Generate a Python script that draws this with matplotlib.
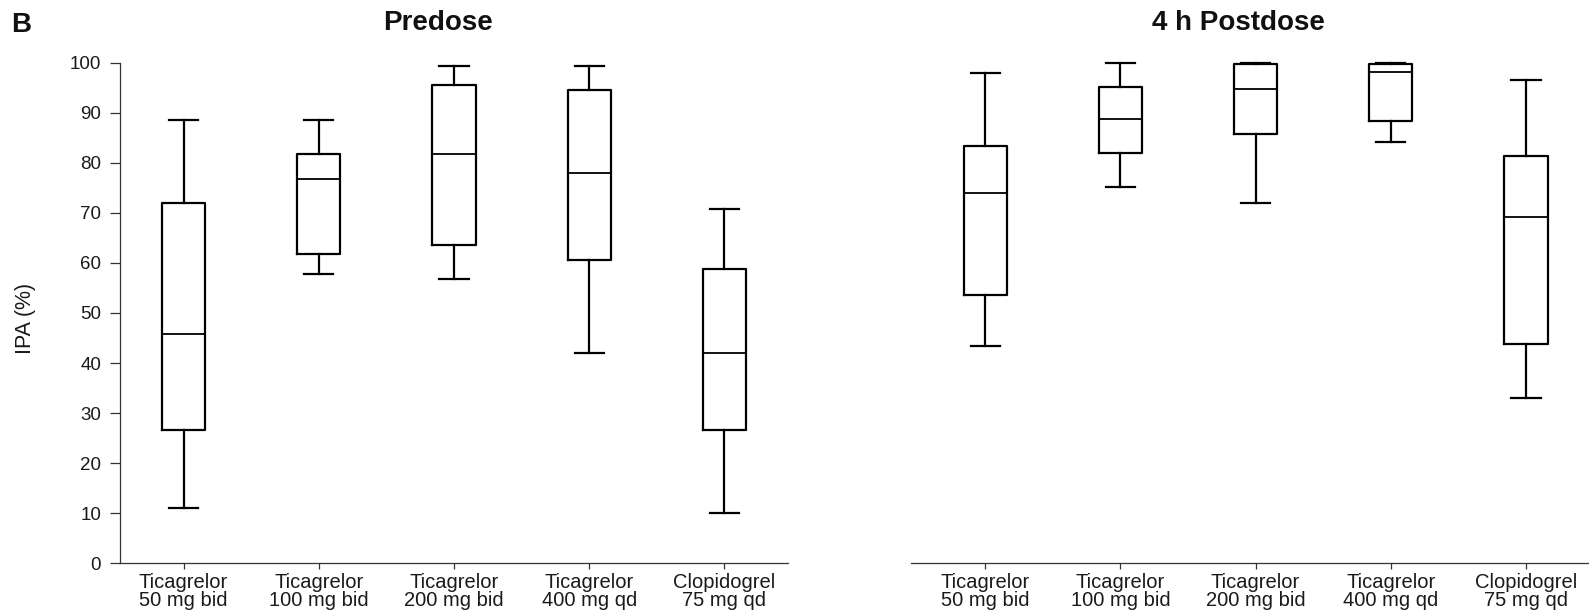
import matplotlib
matplotlib.use('Agg')
import matplotlib.pyplot as plt

plt.rcParams['font.family'] = ['Liberation Sans', 'DejaVu Sans']

groups = ['Ticagrelor\n50 mg bid', 'Ticagrelor\n100 mg bid', 'Ticagrelor\n200 mg bid',
          'Ticagrelor\n400 mg qd', 'Clopidogrel\n75 mg qd']

# predose IPA (%) box stats
pre_lo = [11.1, 57.8, 56.7, 42.1, 10.0]
pre_q1 = [26.6, 61.7, 63.6, 60.6, 26.6]
pre_med = [45.9, 76.7, 81.8, 77.9, 42.1]
pre_q3 = [71.9, 81.8, 95.5, 94.5, 58.7]
pre_hi = [88.5, 88.5, 99.4, 99.4, 70.7]

# 4 h postdose IPA (%) box stats
post_lo = [43.4, 75.2, 71.9, 84.2, 33.0]
post_q1 = [53.5, 82.0, 85.7, 88.4, 43.9]
post_med = [73.9, 88.8, 94.7, 98.1, 69.2]
post_q3 = [83.4, 95.1, 99.8, 99.8, 81.4]
post_hi = [97.9, 100.0, 100.0, 100.0, 96.5]


def make_stats(lo, q1, med, q3, hi):
    return [dict(whislo=a, q1=b, med=c, q3=d, whishi=e, fliers=[])
            for a, b, c, d, e in zip(lo, q1, med, q3, hi)]


def draw(ax, stats):
    lw = 1.6
    ax.bxp(stats, positions=range(1, 6), widths=0.32, showfliers=False,
           boxprops=dict(color='black', linewidth=lw),
           medianprops=dict(color='black', linewidth=1.3),
           whiskerprops=dict(color='black', linewidth=lw),
           capprops=dict(color='black', linewidth=lw),
           capwidths=0.215)
    for a in ax.lines + ax.patches:
        a.set_clip_on(False)
    ax.set_ylim(0, 100)
    ax.set_xticks(range(1, 6))
    ax.set_xticklabels(groups, fontsize=14.5, color='#1a1a1a', linespacing=0.95)
    ax.tick_params(axis='x', length=4, width=0.9, pad=3, color='#333333')
    for s in ['top', 'right']:
        ax.spines[s].set_visible(False)
    ax.spines['bottom'].set_linewidth(0.9)
    ax.spines['bottom'].set_color('#333333')


fig = plt.figure(figsize=(15.89, 6.14), dpi=100)

ax1 = fig.add_axes([0.0755, 0.0826, 0.4204, 0.8153])
draw(ax1, make_stats(pre_lo, pre_q1, pre_med, pre_q3, pre_hi))
ax1.set_xlim(0.53, 5.47)
ax1.set_yticks(range(0, 101, 10))
ax1.tick_params(axis='y', length=7.5, width=0.9, pad=6, labelsize=13.5, color='#333333',
                labelcolor='#1a1a1a')
ax1.spines['left'].set_linewidth(0.9)
ax1.spines['left'].set_color('#333333')
ax1.set_ylabel('IPA (%)', fontsize=15.5, color='#1a1a1a')
ax1.yaxis.set_label_coords(-0.125, 0.49)

ax2 = fig.add_axes([0.5732, 0.0826, 0.4268, 0.8153])
draw(ax2, make_stats(post_lo, post_q1, post_med, post_q3, post_hi))
ax2.set_xlim(0.45, 5.466)
ax2.spines['left'].set_visible(False)
ax2.set_yticks([])

fig.text(438 / 1589, 1 - 29.5 / 614, 'Predose', fontsize=20, fontweight='bold',
         ha='center', va='baseline', color='#111111')
fig.text(1238 / 1589, 1 - 29.5 / 614, '4 h Postdose', fontsize=20, fontweight='bold',
         ha='center', va='baseline', color='#111111')
fig.text(11 / 1589, 1 - 32 / 614, 'B', fontsize=20, fontweight='bold',
         ha='left', va='baseline', color='#111111')

fig.savefig('out.png', dpi=100, facecolor='white')
